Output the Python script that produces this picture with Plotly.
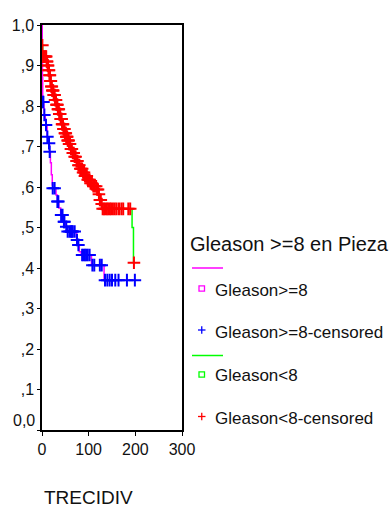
import numpy as np
import plotly.graph_objects as go

# ---------------- data ----------------
# Kaplan-Meier step curve, Gleason>=8 (time, survival after step)
ge8_step_t = [0, 0.5, 1, 1.5, 4, 5, 7, 8, 11, 14, 16, 18, 20, 22, 23, 30, 33, 36, 40, 46, 50, 53, 74, 77, 80, 84, 106, 133]
ge8_step_s = [1.0, 0.93, 0.87, 0.81, 0.794, 0.778, 0.765, 0.753, 0.724, 0.708, 0.687, 0.66, 0.63, 0.605, 0.597, 0.58, 0.564, 0.548, 0.531, 0.514, 0.502, 0.49, 0.469, 0.457, 0.44, 0.432, 0.407, 0.37]
ge8_end_t = 199
ge8_cens_t = [1.5, 3, 5, 8.6, 11.5, 15, 16.5, 23, 27, 33, 35, 41, 44, 47, 48, 52, 55, 59, 62, 64, 66, 70, 75, 78,
              86, 89, 92, 95, 98, 102, 108, 112, 124, 128, 135, 140, 145, 150, 157, 164, 182, 199]

# Kaplan-Meier step curve, Gleason<8
lt8_step_t = [0, 0.5, 1.5, 10, 12, 14, 16, 18, 20, 22, 25, 28, 31, 34, 37, 40, 43, 46, 49, 52, 55, 58, 62, 66, 70,
              74, 78, 82, 87, 92, 97, 103, 110, 117, 121, 124, 127, 129, 193, 196]
lt8_step_s = [1.0, 0.95, 0.922, 0.91, 0.90, 0.888, 0.876, 0.862, 0.848, 0.838, 0.827, 0.815, 0.803, 0.792, 0.78,
              0.768, 0.755, 0.743, 0.733, 0.724, 0.715, 0.706, 0.694, 0.684, 0.675, 0.664, 0.654, 0.645, 0.636,
              0.627, 0.618, 0.609, 0.602, 0.594, 0.582, 0.568, 0.558, 0.546, 0.50, 0.413]
lt8_end_t = 197
lt8_cens_t = [0.8, 2, 4, 6, 8, 9, 10, 11, 12, 13, 14, 15, 16, 17, 18, 19, 20, 21, 22, 23, 24, 25, 26, 27, 28, 29,
              30, 31, 32, 33, 34, 35, 36, 37, 38, 39, 40, 41, 42, 43, 44, 45, 46, 47, 48, 49, 50, 51, 52, 53, 54,
              55, 56, 57, 58, 59, 60, 62, 64, 66, 68, 70, 72, 74, 76, 78, 80, 82, 84, 86, 88, 90, 92, 94, 96, 98,
              100, 102, 104, 107, 110, 113, 116, 118, 120, 122, 124, 126, 128, 130, 133, 136, 139, 142, 145, 148,
              152, 156, 160, 165, 170, 174, 185, 189, 197]

x_tickvals = [0, 100, 200, 300]
x_ticktext = ["0", "100", "200", "300"]
y_tickvals = [0.0, 0.1, 0.2, 0.3, 0.4, 0.5, 0.6, 0.7, 0.8, 0.9, 1.0]
y_ticktext = ["0,0", ",1", ",2", ",3", ",4", ",5", ",6", ",7", ",8", ",9", "1,0"]

legend_title = "Gleason >=8 en Pieza"
legend_labels = ["Gleason>=8", "Gleason>=8-censored", "Gleason<8", "Gleason<8-censored"]
axis_title = "TRECIDIV"

# ---------------- helpers ----------------
def step_lookup(step_t, step_s, times):
    idx = np.searchsorted(np.array(step_t), np.array(times), side="right") - 1
    return list(np.array(step_s)[idx])

MAG = "#FF00FF"
BLUE = "#0000FF"
GREEN = "#00FF00"
RED = "#FF0000"
FONT = "Liberation Sans, Arial, sans-serif"
TXT = "#111"

W, H = 391, 509
L, R, T, B = 42, 209, 25, 79
PW, PH = W - L - R, H - T - B


def px(xp):
    return (xp - L) / PW


def py(yp):
    return (H - B - yp) / PH


fig = go.Figure()

# curves
fig.add_trace(go.Scatter(x=lt8_step_t + [lt8_end_t], y=lt8_step_s + [lt8_step_s[-1]], mode="lines",
                         line=dict(color=GREEN, width=1.5, shape="hv"), showlegend=False, hoverinfo="skip"))
fig.add_trace(go.Scatter(x=ge8_step_t + [ge8_end_t], y=ge8_step_s + [ge8_step_s[-1]], mode="lines",
                         line=dict(color=MAG, width=1.5, shape="hv"), showlegend=False, hoverinfo="skip"))

# censor marks
fig.add_trace(go.Scatter(x=lt8_cens_t, y=step_lookup(lt8_step_t, lt8_step_s, lt8_cens_t), mode="markers",
                         marker=dict(symbol="cross-thin", size=9, line=dict(color=RED, width=2)),
                         showlegend=False, hoverinfo="skip"))
fig.add_trace(go.Scatter(x=ge8_cens_t, y=step_lookup(ge8_step_t, ge8_step_s, ge8_cens_t), mode="markers",
                         marker=dict(symbol="cross-thin", size=9, line=dict(color=BLUE, width=2)),
                         showlegend=False, hoverinfo="skip"))

shapes = []
annotations = []

# legend title
annotations.append(dict(x=px(188), y=py(244), xref="paper", yref="paper", xanchor="left", yanchor="middle",
                        text=legend_title, showarrow=False, font=dict(family=FONT, size=20, color=TXT)))

# legend line samples
for yy, col in [(268, MAG), (355.5, GREEN)]:
    shapes.append(dict(type="line", xref="paper", yref="paper", x0=px(192), x1=px(223), y0=py(yy), y1=py(yy),
                       line=dict(color=col, width=1.5)))

# legend squares
for yy, col in [(288.5, MAG), (374.5, GREEN)]:
    shapes.append(dict(type="rect", xref="paper", yref="paper", x0=px(199), x1=px(204.5), y0=py(yy - 2.7),
                       y1=py(yy + 2.7), line=dict(color=col, width=1.3)))

# legend plus signs
for yy, col in [(330, BLUE), (416.5, RED)]:
    shapes.append(dict(type="line", xref="paper", yref="paper", x0=px(198), x1=px(205.5), y0=py(yy), y1=py(yy),
                       line=dict(color=col, width=1.3)))
    shapes.append(dict(type="line", xref="paper", yref="paper", x0=px(201.75), x1=px(201.75), y0=py(yy - 3.8),
                       y1=py(yy + 3.8), line=dict(color=col, width=1.3)))

# legend labels
for lab, yy in zip(legend_labels, [290.5, 332, 375.5, 418]):
    annotations.append(dict(x=px(213), y=py(yy), xref="paper", yref="paper", xanchor="left", yanchor="middle",
                            text=lab, showarrow=False, font=dict(family=FONT, size=17, color=TXT)))

# x-axis title
annotations.append(dict(x=px(88), y=py(497), xref="paper", yref="paper", xanchor="center", yanchor="middle",
                        text=axis_title, showarrow=False, font=dict(family=FONT, size=19, color=TXT)))

# the "0,0" label sits slightly above its tick in the original
annotations.append(dict(x=px(37), y=py(420), xref="paper", yref="paper", xanchor="right", yanchor="middle",
                        text=y_ticktext[0], showarrow=False, font=dict(family=FONT, size=16, color=TXT)))
y_ticktext_axis = [""] + y_ticktext[1:]

fig.update_layout(
    width=W, height=H,
    margin=dict(l=L, r=R, t=T, b=B, pad=0),
    paper_bgcolor="white", plot_bgcolor="white",
    showlegend=False,
    shapes=shapes, annotations=annotations,
    xaxis=dict(range=[0, 300], tickvals=x_tickvals, ticktext=x_ticktext, showgrid=False, zeroline=False,
               showline=True, linecolor="black", linewidth=1.5, mirror=True, ticks="outside", ticklen=4,
               tickcolor="black", tickfont=dict(family=FONT, size=16, color=TXT)),
    yaxis=dict(range=[0, 1], tickvals=y_tickvals, ticktext=y_ticktext_axis, showgrid=False, zeroline=False,
               showline=True, linecolor="black", linewidth=1.5, mirror=True, ticks="outside", ticklen=3,
               tickcolor="black", tickfont=dict(family=FONT, size=16, color=TXT)),
)

fig.write_html("out.html")
